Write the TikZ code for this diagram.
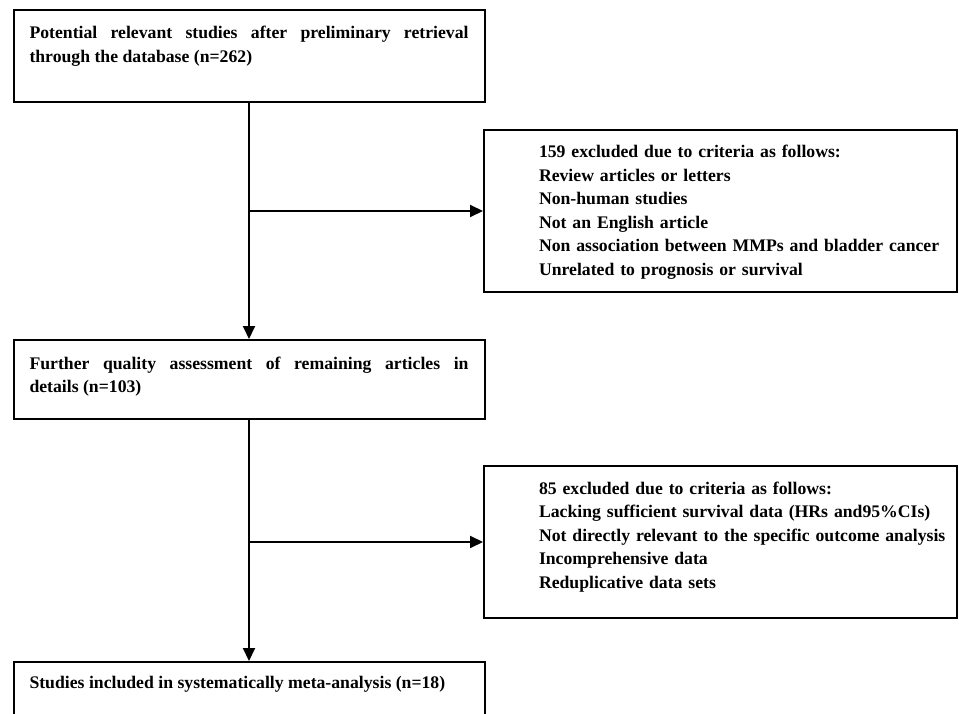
\documentclass[tikz,border=0pt]{standalone}
\usepackage{fontspec}
\setmainfont{Liberation Serif}
\usetikzlibrary{positioning,arrows.meta}

\begin{document}
\begin{tikzpicture}[x=1pt,y=1pt,
    stage/.style={rectangle,draw=black,line width=2pt,inner xsep=16pt,inner ysep=0pt,
		text width=439pt,align=justify,anchor=north west,
		font=\bfseries\fontsize{17.7}{23.5}\selectfont},
    excluded/.style={rectangle,draw=black,line width=2pt,inner sep=0pt,
		text width=473pt,align=left,anchor=north west,
		font=\bfseries\fontsize{17.7}{23.5}\selectfont},
    flow/.style={line width=2pt,draw=black,-{Triangle[length=13pt,width=12pt]}}
]
    \useasboundingbox (0,0) rectangle (959,-714);

    % main line of the flow chart
    \node (retrieved) [stage,text height=29pt,text depth=63pt] at (12.5,-9)
	     {Potential relevant studies after preliminary retrieval\linebreak
	      through the database (n=262)};
    \node (assessed) [stage,text height=29pt,text depth=50pt] at (12.5,-339)
	     {Further quality assessment of remaining articles in\linebreak
	      details (n=103)};
    \node (included) [stage,text height=26pt,text depth=53pt] at (12.5,-661)
	     {Studies included in systematically meta-analysis (n=18)};

    % exclusions on the right
    \node (firstout) [excluded,text height=28pt,text depth=134pt] at (483,-129)
	     {\leftskip=55pt 159 excluded due to criteria as follows:\\
	      Review articles or letters\\
	      Non-human studies\\
	      Not an English article\\
	      Non association between MMPs and bladder cancer\\
	      Unrelated to prognosis or survival\par};
    \node (secondout) [excluded,text height=28pt,text depth=124pt] at (483,-465)
	     {\leftskip=55pt 85 excluded due to criteria as follows:\\
	      Lacking sufficient survival data (HRs and95\%CIs)\\
	      Not directly relevant to the specific outcome analysis\\
	      Incomprehensive data\\
	      Reduplicative data sets\par};

    \draw[flow] (retrieved) -- (assessed);
    \draw[flow] (assessed) -- (included);
    \draw[flow] (retrieved.south |- firstout.west) -- (firstout.west);
    \draw[flow] (assessed.south |- secondout.west) -- (secondout.west);

\end{tikzpicture}
\end{document}
